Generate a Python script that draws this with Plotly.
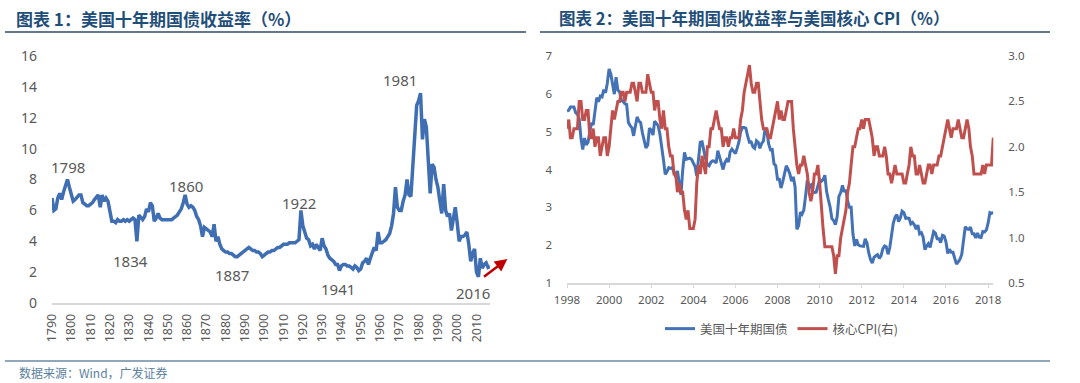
import plotly.graph_objects as go
import pandas as pd

# ---------------- Chart 1: US 10Y yield, annual 1790-2017 ----------------
years_long = list(range(1790, 2018))
yield_long = [
    6.8, 6.0, 6.1, 6.8, 7.1, 6.7, 7.2, 7.6, 8.0, 7.5,
    7.1, 6.6, 6.7, 6.9, 7.0, 7.0, 6.5, 6.4, 6.3, 6.3,
    6.4, 6.5, 6.7, 6.9, 7.0, 6.2, 7.0, 6.6, 6.8, 6.6,
    6.0, 5.3, 5.3, 5.2, 5.4, 5.3, 5.3, 5.4, 5.3, 5.4,
    5.3, 5.4, 5.5, 5.4, 4.0, 5.7, 5.5, 5.4, 5.6, 6.1,
    5.9, 6.5, 6.3, 5.3, 5.5, 5.8, 5.5, 5.4, 5.4, 5.4,
    5.4, 5.4, 5.4, 5.5, 5.6, 5.7, 5.9, 6.1, 6.5, 7.0,
    6.4, 6.2, 6.3, 6.2, 6.0, 5.6, 5.4, 5.0, 4.3, 4.9,
    4.8, 4.7, 4.6, 4.3, 5.1, 4.0, 4.3, 3.8, 3.5, 3.4,
    3.3, 3.3, 3.2, 3.2, 3.1, 3.0, 3.0, 3.1, 3.2, 3.3,
    3.4, 3.5, 3.6, 3.5, 3.4, 3.4, 3.3, 3.3, 3.2, 3.0,
    3.1, 3.2, 3.3, 3.3, 3.4, 3.4, 3.5, 3.6, 3.6, 3.7,
    3.8, 3.8, 3.8, 3.9, 3.9, 3.9, 3.9, 4.0, 4.1, 6.0,
    5.0, 4.6, 4.2, 4.1, 3.7, 3.8, 3.5, 3.8, 3.6, 3.4,
    4.2, 3.7, 3.5, 3.1, 2.9, 2.8, 2.7, 2.5, 2.5, 2.1,
    2.4, 2.5, 2.5, 2.4, 2.4, 2.3, 2.2, 2.4, 2.3, 2.1,
    2.2, 2.6, 2.7, 2.9, 2.5, 2.9, 3.3, 3.6, 3.4, 4.6,
    3.9, 3.9, 4.0, 4.1, 4.3, 4.5, 5.0, 5.8, 7.5, 6.2,
    6.0, 6.0, 6.6, 7.0, 8.0, 7.0, 6.9, 9.0, 11.5, 12.8,
    13.1, 13.6, 10.6, 11.9, 11.4, 9.3, 7.1, 9.0, 8.8, 8.0,
    7.5, 6.6, 5.8, 7.7, 6.0, 5.6, 5.8, 4.7, 5.5, 6.2,
    5.2, 4.0, 4.3, 4.3, 4.4, 4.6, 3.8, 2.7, 3.2, 3.5,
    2.0, 1.7, 2.9, 2.25, 2.5, 2.6, 2.3, 2.35,
]
label_years = ["1798", "1834", "1860", "1887", "1922", "1941", "1981", "2016"]
label_x = [1798.3, 1830.6, 1859.4, 1883.2, 1917.8, 1938.0, 1970.5, 2008.0]
label_y = [8.8, 2.7, 7.6, 1.8, 6.45, 0.9, 14.45, 0.65]

# ---------------- Chart 2: US 10Y yield vs core CPI, monthly ----------------
ust10 = [
    5.54, 5.57, 5.65, 5.64, 5.65, 5.50, 5.46, 5.34, 4.81, 4.53, 4.83, 4.65,
    4.72, 5.00, 5.23, 5.18, 5.54, 5.90, 5.79, 5.94, 5.92, 6.11, 6.03, 6.28,
    6.66, 6.52, 6.26, 5.99, 6.44, 6.10, 6.05, 5.83, 5.80, 5.74, 5.72, 5.24,
    5.16, 5.10, 4.89, 5.14, 5.39, 5.28, 5.24, 4.97, 4.73, 4.57, 4.65, 5.09,
    5.04, 4.91, 5.28, 5.21, 5.16, 4.93, 4.65, 4.26, 3.87, 3.94, 4.05, 4.03,
    4.05, 3.90, 3.81, 3.96, 3.57, 3.33, 3.98, 4.45, 4.27, 4.29, 4.30, 4.27,
    4.15, 4.08, 3.83, 4.35, 4.72, 4.73, 4.50, 4.28, 4.13, 4.10, 4.19, 4.23,
    4.22, 4.17, 4.50, 4.34, 4.14, 4.00, 4.18, 4.26, 4.20, 4.46, 4.54, 4.47,
    4.42, 4.57, 4.72, 4.99, 5.11, 5.11, 5.09, 4.88, 4.72, 4.73, 4.60, 4.56,
    4.76, 4.72, 4.56, 4.69, 4.75, 5.10, 5.00, 4.67, 4.52, 4.53, 4.15, 4.10,
    3.74, 3.74, 3.51, 3.68, 3.88, 4.10, 4.01, 3.89, 3.69, 3.81, 3.53, 2.42,
    2.52, 2.87, 2.82, 2.93, 3.29, 3.72, 3.56, 3.59, 3.40, 3.39, 3.40, 3.59,
    3.73, 3.69, 3.73, 3.85, 3.42, 3.20, 3.01, 2.70, 2.65, 2.54, 2.76, 3.29,
    3.39, 3.58, 3.41, 3.46, 3.17, 3.00, 3.00, 2.30, 1.98, 2.15, 2.01, 1.98,
    1.97, 1.97, 2.17, 2.05, 1.80, 1.62, 1.53, 1.68, 1.72, 1.75, 1.65, 1.72,
    1.91, 1.98, 1.96, 1.76, 1.93, 2.30, 2.58, 2.74, 2.81, 2.62, 2.72, 2.90,
    2.86, 2.71, 2.72, 2.71, 2.56, 2.60, 2.54, 2.42, 2.53, 2.30, 2.33, 2.21,
    1.88, 1.98, 2.04, 1.94, 2.20, 2.36, 2.32, 2.17, 2.17, 2.07, 2.26, 2.24,
    2.09, 1.78, 1.89, 1.81, 1.81, 1.64, 1.50, 1.56, 1.63, 1.76, 2.14, 2.49,
    2.43, 2.42, 2.48, 2.30, 2.30, 2.19, 2.32, 2.21, 2.20, 2.36, 2.35, 2.40,
    2.58, 2.86, 2.84, 2.87,
]
core_cpi = [
    2.2, 2.3, 2.1, 2.1, 2.2, 2.2, 2.2, 2.5, 2.5, 2.3, 2.3, 2.4,
    2.4, 2.1, 2.1, 2.2, 2.0, 2.1, 2.1, 1.9, 2.0, 2.1, 2.1, 1.9,
    2.0, 2.2, 2.4, 2.3, 2.4, 2.5, 2.5, 2.6, 2.6, 2.5, 2.6, 2.6,
    2.6, 2.7, 2.7, 2.6, 2.5, 2.7, 2.7, 2.6, 2.6, 2.6, 2.8, 2.7,
    2.6, 2.6, 2.4, 2.5, 2.5, 2.3, 2.2, 2.4, 2.2, 2.2, 2.0, 1.9,
    1.9, 1.7, 1.7, 1.5, 1.6, 1.5, 1.5, 1.3, 1.2, 1.3, 1.1, 1.1,
    1.1, 1.2, 1.6, 1.8, 1.7, 1.9, 1.8, 1.7, 2.0, 2.0, 2.2, 2.2,
    2.3, 2.4, 2.3, 2.2, 2.2, 2.0, 2.1, 2.1, 2.0, 2.1, 2.1, 2.2,
    2.1, 2.1, 2.1, 2.3, 2.4, 2.6, 2.7, 2.8, 2.9, 2.7, 2.6, 2.6,
    2.7, 2.7, 2.5, 2.3, 2.2, 2.2, 2.2, 2.1, 2.1, 2.2, 2.3, 2.4,
    2.5, 2.3, 2.4, 2.3, 2.3, 2.4, 2.5, 2.5, 2.5, 2.2, 2.0, 1.8,
    1.7, 1.8, 1.8, 1.9, 1.8, 1.7, 1.5, 1.4, 1.5, 1.7, 1.7, 1.8,
    1.6, 1.3, 1.1, 0.9, 0.9, 0.9, 0.9, 0.9, 0.8, 0.6, 0.8, 0.8,
    1.0, 1.1, 1.2, 1.3, 1.5, 1.6, 1.8, 2.0, 2.0, 2.1, 2.2, 2.2,
    2.3, 2.2, 2.3, 2.3, 2.3, 2.2, 2.1, 1.9, 2.0, 2.0, 1.9, 1.9,
    1.9, 2.0, 1.9, 1.7, 1.7, 1.6, 1.7, 1.8, 1.7, 1.7, 1.7, 1.7,
    1.6, 1.6, 1.7, 1.8, 2.0, 1.9, 1.9, 1.7, 1.7, 1.8, 1.7, 1.6,
    1.6, 1.7, 1.8, 1.8, 1.7, 1.8, 1.8, 1.8, 1.9, 1.9, 2.0, 2.1,
    2.2, 2.3, 2.2, 2.1, 2.2, 2.2, 2.2, 2.3, 2.2, 2.1, 2.1, 2.2,
    2.3, 2.2, 2.0, 1.9, 1.7, 1.7, 1.7, 1.7, 1.7, 1.8, 1.7, 1.8,
    1.8, 1.8, 1.8, 2.1,
]
months = pd.date_range("1998-01-01", periods=len(ust10), freq="MS")
name_ust = "美国十年期国债"
name_cpi = "核心CPI(右)"

BLUE = "#4472B6"
RED = "#C0504D"
GRAY_TXT = "#595959"
AXIS_GRAY = "#D9D9D9"
TITLE_CLR = "#1F4E79"
FONT = "Noto Sans, Noto Sans CJK SC, sans-serif"
CJK = "Noto Sans CJK SC, Noto Sans, sans-serif"

W, H = 1080, 383
def px(x): return x / W
def py(y): return 1 - y / H

fig = go.Figure()

fig.add_trace(go.Scatter(x=years_long, y=yield_long, mode="lines",
                         line=dict(color="#3F6FB2", width=3.5),
                         xaxis="x", yaxis="y", showlegend=False,
                         hoverinfo="skip"))
fig.add_trace(go.Scatter(x=months, y=ust10, mode="lines", name=name_ust,
                         line=dict(color=BLUE, width=3),
                         xaxis="x2", yaxis="y2"))
fig.add_trace(go.Scatter(x=months, y=core_cpi, mode="lines", name=name_cpi,
                         line=dict(color=RED, width=3),
                         xaxis="x2", yaxis="y3"))

tickfont_big = dict(family=FONT, size=14, color=GRAY_TXT)
tickfont_sm = dict(family=FONT, size=11.5, color=GRAY_TXT)

fig.update_layout(
    width=W, height=H, autosize=False,
    margin=dict(l=0, r=0, t=0, b=0, pad=0, autoexpand=False),
    paper_bgcolor="white", plot_bgcolor="white",
    xaxis=dict(domain=[px(52), px(490)], range=[1790, 2017],
               tickmode="linear", tick0=1790, dtick=10, tickangle=-90,
               tickfont=dict(family=FONT, size=12.5, color=GRAY_TXT),
               showgrid=False, zeroline=False, showline=True,
               linecolor=AXIS_GRAY, linewidth=1.5, ticks="",
               anchor="y", ticklabelstandoff=4, automargin=False),
    yaxis=dict(domain=[py(303), py(56)], range=[0, 16], dtick=2,
               tickfont=tickfont_big, showgrid=False, zeroline=False,
               showline=False, ticks="", anchor="x", ticklabelstandoff=14,
               automargin=False),
    xaxis2=dict(domain=[px(567), px(993.3)],
                range=["1998-01-01", "2018-04-01"],
                type="date", tick0="1998-01-01", dtick="M24",
                tickformat="%Y", tickfont=tickfont_sm,
                showgrid=False, zeroline=False, showline=True,
                linecolor=AXIS_GRAY, linewidth=1.5,
                ticks="outside", ticklen=3, tickcolor=AXIS_GRAY,
                anchor="y2", ticklabelstandoff=2, automargin=False),
    yaxis2=dict(domain=[py(283), py(56)], range=[1, 7], dtick=1,
                tickfont=tickfont_sm, showgrid=False, zeroline=False,
                showline=False, ticks="", anchor="x2",
                ticklabelstandoff=14, automargin=False),
    yaxis3=dict(range=[0.5, 3.0], dtick=0.5, tickformat=".1f",
                tickfont=tickfont_sm, showgrid=False, zeroline=False,
                showline=False, ticks="", overlaying="y2", side="right",
                anchor="x2", ticklabelstandoff=14, automargin=False),
    showlegend=True,
    legend=dict(orientation="h", x=px(660), y=py(329), xanchor="left",
                yanchor="middle", font=dict(family=CJK, size=12.5,
                                            color=GRAY_TXT),
                bgcolor="rgba(0,0,0,0)", itemwidth=30,
                tracegroupgap=0),
)

annotations = []
for t, ax_, ay_ in zip(label_years, label_x, label_y):
    annotations.append(dict(x=ax_, y=ay_, xref="x", yref="y", text=t,
                            showarrow=False,
                            font=dict(family=FONT, size=15, color=GRAY_TXT)))
# red arrow indicating upturn
annotations.append(dict(x=2026.0, y=2.85, xref="x", yref="y",
                        ax=2013.1, ay=1.62, axref="x", ayref="y",
                        text="", showarrow=True, arrowhead=2, arrowsize=1,
                        arrowwidth=2.5, arrowcolor="#C00000"))
# titles
annotations.append(dict(x=px(14), y=py(18), xref="paper", yref="paper",
                        xanchor="left", yanchor="middle",
                        text="<b>图表 1：美国十年期国债收益率（%）</b>",
                        showarrow=False,
                        font=dict(family=CJK, size=17, color=TITLE_CLR)))
annotations.append(dict(x=px(557), y=py(18), xref="paper", yref="paper",
                        xanchor="left", yanchor="middle",
                        text="<b>图表 2：美国十年期国债收益率与美国核心 CPI（%）</b>",
                        showarrow=False,
                        font=dict(family=CJK, size=16.5, color=TITLE_CLR)))
annotations.append(dict(x=px(17), y=py(372), xref="paper", yref="paper",
                        xanchor="left", yanchor="middle",
                        text="数据来源：Wind，广发证券",
                        showarrow=False,
                        font=dict(family=CJK, size=12, color="#5B7F9E")))
fig.update_layout(annotations=annotations)

shapes = [
    dict(type="line", xref="paper", yref="paper", x0=px(5), x1=px(526),
         y0=py(32), y1=py(32), line=dict(color="#2E4A62", width=1.5)),
    dict(type="line", xref="paper", yref="paper", x0=px(540), x1=px(1050),
         y0=py(32), y1=py(32), line=dict(color="#2E4A62", width=1.5)),
    dict(type="line", xref="paper", yref="paper", x0=px(5), x1=px(1050),
         y0=py(361), y1=py(361), line=dict(color="#8FA7B8", width=2)),
]
fig.update_layout(shapes=shapes)

fig.write_html(
    "out.html",
    config={"displayModeBar": False},
    post_script="document.body.style.margin='0';"
                "document.body.style.padding='0';"
                "document.body.style.overflow='hidden';",
)
